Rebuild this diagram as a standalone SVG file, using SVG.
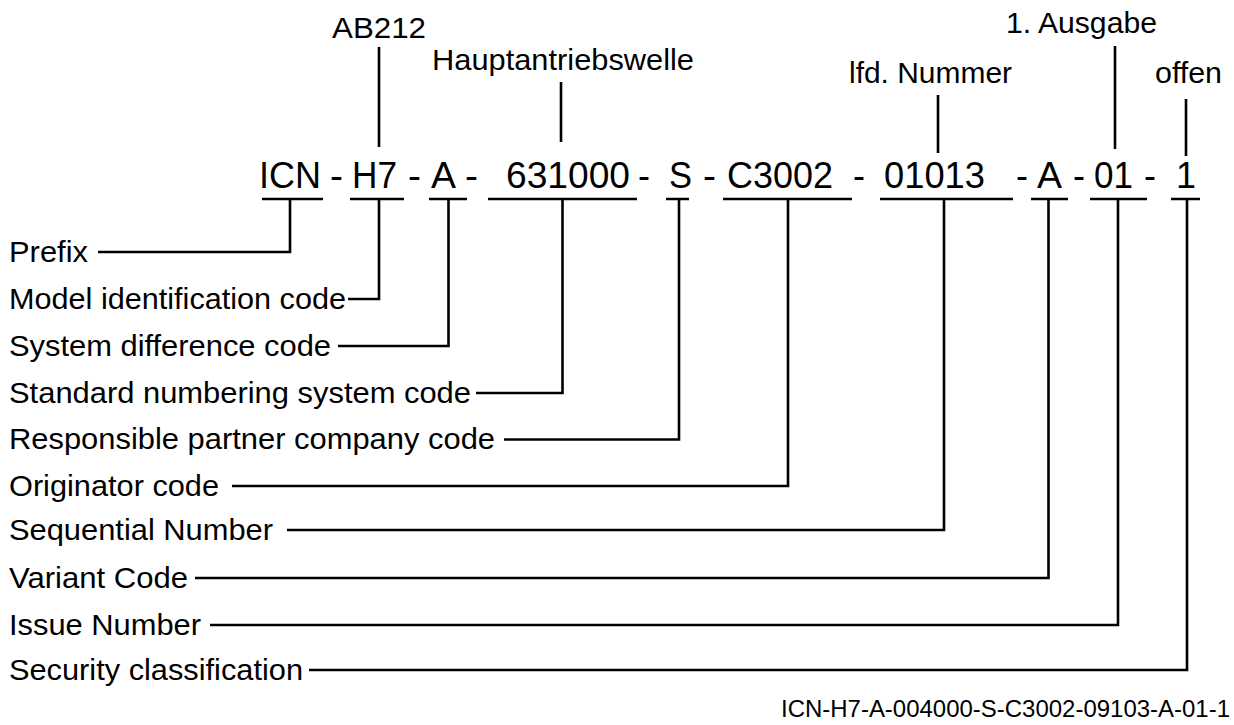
<svg xmlns="http://www.w3.org/2000/svg" width="1234" height="725" viewBox="0 0 1234 725">
<style>
text{font-family:"Liberation Sans",Arial,sans-serif;fill:#000}
.lbl{font-size:30px}
.code{font-size:36px}
.foot{font-size:24px}
.ln{stroke:#000;stroke-width:2.6;fill:none;stroke-linecap:butt;stroke-linejoin:miter}
</style>
<rect width="1234" height="725" fill="#fff"/>
<g id="top-labels">
<text class="lbl" x="332" y="38" textLength="94" lengthAdjust="spacingAndGlyphs">AB212</text>
<text class="lbl" x="432" y="70" textLength="262" lengthAdjust="spacingAndGlyphs">Hauptantriebswelle</text>
<text class="lbl" x="849" y="83" textLength="163" lengthAdjust="spacingAndGlyphs">lfd. Nummer</text>
<text class="lbl" x="1006" y="33" textLength="151" lengthAdjust="spacingAndGlyphs">1. Ausgabe</text>
<text class="lbl" x="1155" y="83" textLength="67" lengthAdjust="spacingAndGlyphs">offen</text>
</g>
<g id="code">
<text class="code" x="259" y="188" textLength="62" lengthAdjust="spacingAndGlyphs">ICN</text>
<text class="code" x="330" y="188" textLength="13" lengthAdjust="spacingAndGlyphs">-</text>
<text class="code" x="352" y="188" textLength="45" lengthAdjust="spacingAndGlyphs">H7</text>
<text class="code" x="408" y="188" textLength="13" lengthAdjust="spacingAndGlyphs">-</text>
<text class="code" x="431" y="188" textLength="25" lengthAdjust="spacingAndGlyphs">A</text>
<text class="code" x="465" y="188" textLength="13" lengthAdjust="spacingAndGlyphs">-</text>
<text class="code" x="506" y="188" textLength="124" lengthAdjust="spacingAndGlyphs">631000</text>
<text class="code" x="638" y="188" textLength="12" lengthAdjust="spacingAndGlyphs">-</text>
<text class="code" x="669" y="188" textLength="23" lengthAdjust="spacingAndGlyphs">S</text>
<text class="code" x="703" y="188" textLength="13" lengthAdjust="spacingAndGlyphs">-</text>
<text class="code" x="727" y="188" textLength="106" lengthAdjust="spacingAndGlyphs">C3002</text>
<text class="code" x="853" y="188" textLength="12" lengthAdjust="spacingAndGlyphs">-</text>
<text class="code" x="884" y="188" textLength="101" lengthAdjust="spacingAndGlyphs">01013</text>
<text class="code" x="1016" y="188" textLength="12" lengthAdjust="spacingAndGlyphs">-</text>
<text class="code" x="1037" y="188" textLength="25" lengthAdjust="spacingAndGlyphs">A</text>
<text class="code" x="1073" y="188" textLength="12" lengthAdjust="spacingAndGlyphs">-</text>
<text class="code" x="1094" y="188" textLength="39" lengthAdjust="spacingAndGlyphs">01</text>
<text class="code" x="1144" y="188" textLength="12" lengthAdjust="spacingAndGlyphs">-</text>
<text class="code" x="1176" y="188" textLength="20" lengthAdjust="spacingAndGlyphs">1</text>
</g>
<g id="left-labels">
<text class="lbl" x="9" y="262" textLength="79" lengthAdjust="spacingAndGlyphs">Prefix</text>
<text class="lbl" x="9" y="309" textLength="337" lengthAdjust="spacingAndGlyphs">Model identification code</text>
<text class="lbl" x="9" y="356" textLength="322" lengthAdjust="spacingAndGlyphs">System difference code</text>
<text class="lbl" x="9" y="403" textLength="462" lengthAdjust="spacingAndGlyphs">Standard numbering system code</text>
<text class="lbl" x="9" y="449" textLength="486" lengthAdjust="spacingAndGlyphs">Responsible partner company code</text>
<text class="lbl" x="9" y="496" textLength="210" lengthAdjust="spacingAndGlyphs">Originator code</text>
<text class="lbl" x="9" y="540" textLength="264" lengthAdjust="spacingAndGlyphs">Sequential Number</text>
<text class="lbl" x="9" y="588" textLength="179" lengthAdjust="spacingAndGlyphs">Variant Code</text>
<text class="lbl" x="9" y="635" textLength="192" lengthAdjust="spacingAndGlyphs">Issue Number</text>
<text class="lbl" x="9" y="680" textLength="294" lengthAdjust="spacingAndGlyphs">Security classification</text>
</g>
<g id="footer">
<text class="foot" x="781" y="717" textLength="449" lengthAdjust="spacingAndGlyphs">ICN-H7-A-004000-S-C3002-09103-A-01-1</text>
</g>
<g id="connectors" class="ln">
<path d="M379 47V147"/>
<path d="M561 82V142"/>
<path d="M938 95V153"/>
<path d="M1115 46V149"/>
<path d="M1186 99V156"/>
<path d="M262 199H323M350 199H404M429 199H467M488 199H637M666 199H689M723 199H852M880 199H1013M1031 199H1068M1090 199H1147M1171 199H1200"/>
<path d="M290 199V252H98"/>
<path d="M379 199V299H348"/>
<path d="M448.5 199V346H338"/>
<path d="M562.5 199V393H476"/>
<path d="M679 199V439.5H504"/>
<path d="M788 199V486H232"/>
<path d="M944 199V530H287"/>
<path d="M1048.5 199V578H195"/>
<path d="M1118 199V625H210"/>
<path d="M1187 199V670H309"/>
</g>
</svg>
